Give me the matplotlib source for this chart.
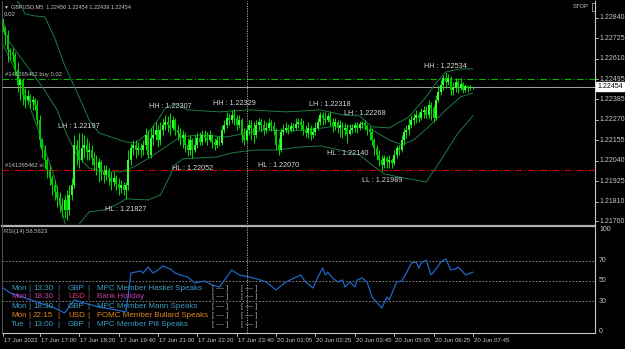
import numpy as np
import matplotlib
matplotlib.use("Agg")
import matplotlib.pyplot as plt

# GBPUSD M5 candles, prices in points (x 1e-5)
closes = [122784, 122745, 122661, 122649, 122632, 122548, 122465, 122492, 122408, 122380,
          122402, 122369, 122380, 122352, 122268, 122156, 122099, 122043, 121987, 121942,
          121903, 121864, 121830, 121791, 121763, 121819, 121763, 121847, 121903, 122128,
          122099, 122043, 122111, 122128, 122088, 122099, 122055, 122015, 121999, 122032,
          121976, 121959, 121987, 121942, 121920, 121942, 121909, 121886, 121903, 121875,
          121903, 122043, 122111, 122128, 122099, 122111, 122099, 122128, 122184, 122071,
          122167, 122184, 122212, 122156, 122212, 122240, 122257, 122240, 122223, 122268,
          122212, 122195, 122167, 122184, 122128, 122099, 122156, 122099, 122128, 122167,
          122144, 122184, 122167, 122156, 122184, 122144, 122128, 122156, 122139, 122212,
          122240, 122279, 122268, 122296, 122279, 122240, 122268, 122184, 122156, 122212,
          122240, 122223, 122184, 122240, 122257, 122240, 122212, 122223, 122251, 122234,
          122212, 122128, 122099, 122200, 122212, 122223, 122212, 122234, 122223, 122245,
          122257, 122240, 122212, 122195, 122223, 122184, 122200, 122223, 122257, 122296,
          122279, 122268, 122290, 122257, 122234, 122257, 122223, 122240, 122212, 122223,
          122189, 122212, 122223, 122240, 122223, 122245, 122251, 122234, 122212, 122200,
          122156, 122111, 122071, 122043, 122015, 122055, 122032, 122043, 122027, 122071,
          122111, 122099, 122156, 122200, 122212, 122240, 122268, 122279, 122296, 122279,
          122313, 122324, 122296, 122352, 122335, 122279, 122380, 122425, 122464, 122503,
          122481, 122503, 122436, 122447, 122481, 122447, 122470, 122436, 122459, 122447,
          122450, 122454]
highs = [122840, 122795, 122773, 122672, 122672, 122649, 122593, 122503, 122503, 122447,
         122436, 122414, 122402, 122391, 122380, 122296, 122167, 122128, 122055, 122015,
         121959, 121931, 121903, 121864, 121830, 121847, 121875, 121903, 121942, 122184,
         122156, 122197, 122195, 122184, 122167, 122144, 122128, 122088, 122071, 122055,
         122043, 122015, 122015, 121999, 121976, 121976, 121959, 121942, 121931, 121920,
         121920, 122099, 122139, 122156, 122156, 122144, 122139, 122156, 122223, 122212,
         122223, 122240, 122257, 122240, 122257, 122279, 122296, 122290, 122307, 122290,
         122279, 122240, 122223, 122212, 122200, 122167, 122184, 122167, 122184, 122195,
         122200, 122212, 122212, 122200, 122212, 122189, 122167, 122178, 122178, 122240,
         122268, 122313, 122307, 122324, 122329, 122296, 122296, 122279, 122223, 122240,
         122268, 122268, 122257, 122268, 122279, 122273, 122268, 122257, 122279, 122268,
         122257, 122223, 122167, 122223, 122245, 122257, 122245, 122257, 122251, 122279,
         122279, 122279, 122268, 122240, 122257, 122240, 122229, 122257, 122279, 122313,
         122313, 122313, 122307, 122318, 122279, 122279, 122268, 122268, 122257, 122251,
         122245, 122245, 122245, 122257, 122257, 122262, 122262, 122268, 122245, 122234,
         122223, 122167, 122128, 122099, 122071, 122071, 122066, 122071, 122055, 122099,
         122128, 122128, 122184, 122223, 122240, 122279, 122296, 122307, 122324, 122313,
         122335, 122346, 122346, 122380, 122369, 122352, 122408, 122464, 122492, 122520,
         122534, 122526, 122515, 122481, 122503, 122492, 122503, 122481, 122470, 122464,
         122464, 122454]
lows = [122761, 122689, 122593, 122604, 122593, 122520, 122425, 122380, 122352, 122335,
        122358, 122335, 122324, 122324, 122240, 122117, 122055, 121999, 121942, 121903,
        121847, 121819, 121780, 121752, 121724, 121718, 121707, 121735, 121819, 121886,
        122015, 121999, 122032, 122055, 122043, 122043, 122015, 121987, 121959, 121920,
        121931, 121914, 121931, 121903, 121875, 121898, 121875, 121847, 121858, 121847,
        121827, 121875, 122015, 122071, 122055, 122071, 122060, 122071, 122099, 122055,
        122055, 122128, 122156, 122117, 122128, 122184, 122212, 122200, 122184, 122212,
        122184, 122156, 122128, 122111, 122088, 122066, 122071, 122052, 122088, 122111,
        122128, 122128, 122144, 122128, 122144, 122111, 122099, 122111, 122122, 122128,
        122195, 122223, 122240, 122251, 122240, 122212, 122223, 122144, 122128, 122144,
        122184, 122156, 122139, 122167, 122212, 122200, 122184, 122195, 122212, 122206,
        122184, 122099, 122070, 122088, 122184, 122195, 122189, 122200, 122206, 122212,
        122223, 122212, 122184, 122172, 122167, 122156, 122167, 122184, 122212, 122240,
        122240, 122245, 122257, 122234, 122200, 122212, 122195, 122172, 122167, 122184,
        122140, 122184, 122195, 122200, 122195, 122212, 122223, 122212, 122184, 122156,
        122128, 122071, 122043, 122010, 121989, 121999, 121999, 121999, 121999, 122015,
        122055, 122071, 122088, 122128, 122167, 122184, 122223, 122240, 122251, 122257,
        122268, 122279, 122279, 122279, 122268, 122257, 122268, 122369, 122408, 122436,
        122447, 122464, 122408, 122408, 122425, 122419, 122436, 122419, 122425, 122425,
        122436, 122439]
first_open = 122818
last_open = 122450

# Bollinger bands: (bar, price points)
bb_upper = [(3, 122986), (7, 122913), (9, 122862), (13, 122851), (17, 122846), (21, 122728),
            (25, 122576), (30, 122425), (35, 122268), (39, 122195), (45, 122167), (50, 122144),
            (54, 122139), (59, 122195), (63, 122268), (66, 122335), (70, 122358), (75, 122324),
            (88, 122313), (100, 122324), (115, 122313), (129, 122324), (138, 122296), (145, 122290),
            (150, 122229), (157, 122223), (165, 122285), (172, 122397), (176, 122475), (180, 122537),
            (186, 122554), (191, 122554)]
bb_middle = [(0, 122829), (2, 122717), (7, 122621), (16, 122453), (22, 122324), (26, 122184),
             (30, 122071), (35, 121998), (41, 121976), (48, 121976), (54, 122010), (60, 122060),
             (66, 122116), (72, 122172), (80, 122184), (91, 122172), (99, 122195), (107, 122212),
             (115, 122206), (124, 122212), (133, 122229), (143, 122234), (150, 122212), (157, 122156),
             (162, 122128), (167, 122156), (173, 122229), (180, 122324), (186, 122397), (191, 122419)]
bb_lower = [(0, 122689), (7, 122492), (15, 122184), (21, 121942), (25, 121696), (28, 121595),
            (31, 121684), (35, 121752), (41, 121763), (46, 121791), (50, 121825), (59, 121819),
            (64, 121847), (67, 121931), (70, 122016), (73, 122049), (80, 122055), (87, 122060),
            (93, 122083), (102, 122099), (111, 122099), (121, 122116), (129, 122122), (137, 122099),
            (145, 122071), (150, 122015), (155, 121965), (163, 121942), (172, 121920), (178, 122043),
            (185, 122195), (191, 122290)]

# RSI(14): (bar, value)
rsi_pts = [(0, 43.1), (3, 38.2), (9, 33.3), (15, 28.4), (21, 23.5), (25, 18.6), (29, 31.4),
           (33, 28.4), (39, 24.5), (46, 21.6), (50, 19.6), (52, 57.8), (56, 59.8), (57, 57.8),
           (59, 63.7), (61, 57.8), (63, 60.8), (65, 64.7), (68, 61.8), (70, 57.8), (72, 55.9),
           (75, 53.9), (78, 48.0), (82, 50.0), (85, 46.1), (88, 44.1), (93, 60.8), (96, 55.9),
           (102, 52.9), (107, 49.0), (111, 41.2), (115, 49.0), (121, 55.9), (123, 49.0), (126, 43.1),
           (128, 53.9), (130, 62.7), (131, 55.9), (132, 58.8), (134, 52.9), (136, 49.0), (138, 51.0),
           (139, 44.1), (141, 49.0), (143, 44.1), (144, 51.0), (146, 52.9), (148, 49.0), (150, 34.3),
           (151, 31.4), (154, 23.5), (156, 34.3), (157, 31.4), (160, 49.0), (162, 50.0), (164, 57.8),
           (166, 67.6), (168, 68.6), (169, 62.7), (170, 67.6), (172, 70.6), (174, 55.9), (176, 61.8),
           (178, 68.6), (180, 71.6), (182, 60.8), (184, 61.8), (185, 63.7), (187, 58.8), (188, 55.9),
           (191, 58.6)]

# swing labels: (bar, kind, price)
swings = [(31, "LH", 1.22197), (50, "HL", 1.21827), (68, "HH", 1.22307), (77, "HL", 1.22052),
          (94, "HH", 1.22329), (112, "HL", 1.22070), (133, "LH", 1.22318), (140, "HL", 1.22140),
          (147, "LH", 1.22268), (154, "LL", 1.21989), (180, "HH", 1.22534)]

price_ticks = [1.22840, 1.22725, 1.22610, 1.22495, 1.22385, 1.22270, 1.22155,
               1.22040, 1.21925, 1.21810, 1.21700]
time_bars = [0, 15, 31, 47, 63, 79, 95, 111, 127, 143, 159, 175, 191]
time_labels = ["17 Jun 2022", "17 Jun 17:00", "17 Jun 18:20", "17 Jun 19:40", "17 Jun 21:00",
               "17 Jun 22:20", "17 Jun 23:40", "20 Jun 01:05", "20 Jun 02:25", "20 Jun 03:45",
               "20 Jun 05:05", "20 Jun 06:25", "20 Jun 07:45"]

buy_price = 1.22495
sl_price = 1.21988
bid_price = 1.22454

news_rows = [
    ("Mon", "13:30", "GBP", "MPC Member Haskel Speaks", "#3a9cc4", "#3a9cc4"),
    ("Mon", "18:30", "USD", "Bank Holiday", "#c03ca8", "#e0306a"),
    ("Mon", "18:30", "GBP", "MPC Member Mann Speaks", "#3a9cc4", "#3a9cc4"),
    ("Mon", "22:15", "USD", "FOMC Member Bullard Speaks", "#e0861e", "#e0861e"),
    ("Tue", "13:00", "GBP", "MPC Member Pill Speaks", "#3a9cc4", "#3a9cc4"),
]

W, H = 625, 349
plt.rcParams['font.family'] = ['Liberation Sans', 'DejaVu Sans']
fig = plt.figure(figsize=(W / 100, H / 100), dpi=100, facecolor="black")


def fbox(x0, y0, x1, y1):
    return [x0 / W, 1 - y1 / H, (x1 - x0) / W, (y1 - y0) / H]


def ftext(x, y, s, color="#c8c8c8", size=5.2, **kw):
    fig.text(x / W, 1 - y / H, s, color=color, fontsize=size, va="center", **kw)


ax = fig.add_axes(fbox(2, 1, 595, 224))
ax2 = fig.add_axes(fbox(2, 227, 595, 333))
for a in (ax, ax2):
    a.set_facecolor("black")
    a.set_xlim(-0.41, 240.65)
    a.set_xticks([])
    a.set_yticks([])
    for s in a.spines.values():
        s.set_visible(False)
ax.set_ylim(1.21684, 1.22935)
ax2.set_ylim(-1, 102.9)

c = np.array(closes) / 1e5
h = np.array(highs) / 1e5
l = np.array(lows) / 1e5
o = np.concatenate([[first_open / 1e5], c[:-1]])
o[-1] = last_open / 1e5
idx = np.arange(len(c))
up = c >= o
top = np.maximum.reduce([h, o, c])
bot = np.minimum.reduce([l, o, c])
ax.vlines(idx, bot, top, color="#00e000", lw=0.7, zorder=3)
ax.bar(idx[up], (c - o)[up], bottom=o[up], width=0.8, color="#33ff33", lw=0, zorder=4)
ax.bar(idx[~up], (c - o)[~up], bottom=o[~up], width=0.8, color="#00c800", lw=0, zorder=4)

band_col = "#1f7a45"
for band in (bb_upper, bb_middle, bb_lower):
    bx, by = zip(*band)
    ax.plot(bx, np.array(by) / 1e5, color=band_col, lw=0.7, zorder=2)

ax.axhline(buy_price, color="#00b400", lw=0.8, dashes=(6, 2, 1, 2), zorder=1)
ax.axhline(sl_price, color="#d00000", lw=0.8, dashes=(6, 2, 1, 2), zorder=1)
ax.axhline(bid_price, color="#a8a8a8", lw=0.7, zorder=1)
for a in (ax, ax2):
    a.axvline(99.3, color="#c0c0c0", lw=0.6, dashes=(1.5, 1.5), zorder=1)

for bar, kind, p in swings:
    is_high = kind in ("HH", "LH")
    ax.annotate(f"{kind} : {p:.5f}", (bar, p), xytext=(0, 6 if is_high else -10.5),
                textcoords="offset pixels", ha="center", va="center",
                color="#d8d8d8", fontsize=5.2, zorder=6)

rx, ry = zip(*rsi_pts)
ax2.plot(rx, ry, color="#1f66c4", lw=0.9, zorder=3)
for lev in (70, 50, 30):
    ax2.axhline(lev, color="#9a9a9a", lw=0.6, dashes=(2, 2), zorder=1)

# frames
fig.add_artist(plt.Line2D([2 / W, 595 / W], [1 - 225.5 / H] * 2, color="#b0b0b0", lw=1.6))
fig.add_artist(plt.Line2D([595 / W] * 2, [1 - 1 / H, 1 - 333 / H], color="#c8c8c8", lw=0.8))
fig.add_artist(plt.Line2D([2 / W, 595 / W], [1 - 333 / H] * 2, color="#c8c8c8", lw=0.8))
fig.add_artist(plt.Line2D([2 / W] * 2, [1 - 1 / H, 1 - 333 / H], color="#606060", lw=0.6))

# right price scale
for p in price_ticks:
    y = 1 + (1.22935 - p) / (1.22935 - 1.21684) * 223
    fig.add_artist(plt.Line2D([595 / W, 598 / W], [1 - y / H] * 2, color="#c8c8c8", lw=0.6))
    ftext(599, y, f"{p:.5f}", size=5)
yb = 1 + (1.22935 - bid_price) / (1.22935 - 1.21684) * 223
fig.text(597 / W, 1 - yb / H, f"{bid_price:.5f}", color="black", fontsize=5, va="center",
         bbox=dict(boxstyle="square,pad=0.15", fc="white", ec="white"))
for lev in (100, 70, 50, 30, 0):
    y = 227 + (102.9 - lev) / 103.9 * 106
    ftext(599, y, str(lev), size=5)

# time axis
for b, lab in zip(time_bars, time_labels):
    x = 2 + (b + 0.41) / 241.06 * 593
    fig.add_artist(plt.Line2D([x / W] * 2, [1 - 333 / H, 1 - 336 / H], color="#c8c8c8", lw=0.6))
    ftext(x + 1, 341, lab, size=4.4)

# header texts
ftext(4, 7, "\u25bc", size=3.6)
ftext(11, 7, "GBPUSD,M5  1.22450 1.22454 1.22439 1.22454", size=4.0)
ftext(4, 14.5, "0.02", size=4.4)
ftext(573, 7, "STOP", size=4.2)
fig.add_artist(plt.Rectangle((592 / W, 1 - 11 / H), 3 / W, 8 / H, fill=False, ec="#c0c0c0", lw=0.5))
ftext(5, 74.5, "#141265462 buy 0.02", color="#c0c0c0", size=4.2)
ftext(5, 165.5, "#141265462 sl", color="#c0c0c0", size=4.2)
ftext(4, 231.5, "RSI(14) 58.5623", color="#c0c0c0", size=4.2)

# news panel
row_y = [288, 297, 306.5, 315.5, 325]
for y, (day, tm, cur, ev, col, ccol) in zip(row_y, news_rows):
    ftext(11, y, day, color=col, size=5.8)
    ftext(28, y, "|", color=col, size=5.8)
    ftext(33, y, tm, color=col, size=5.8)
    ftext(57, y, "|", color=col, size=5.8)
    ftext(68, y, cur, color=ccol, size=5.8)
    ftext(87, y, "|", color=col, size=5.8)
    ftext(97, y, ev, color=col, size=5.8)
    ftext(212, y, "[ \u2014 ]", color="#a0a0a0", size=5.6)
    ftext(241, y, "[ \u2014 ]", color="#a0a0a0", size=5.6)

fig.savefig("out.png", dpi=100, facecolor="black")
